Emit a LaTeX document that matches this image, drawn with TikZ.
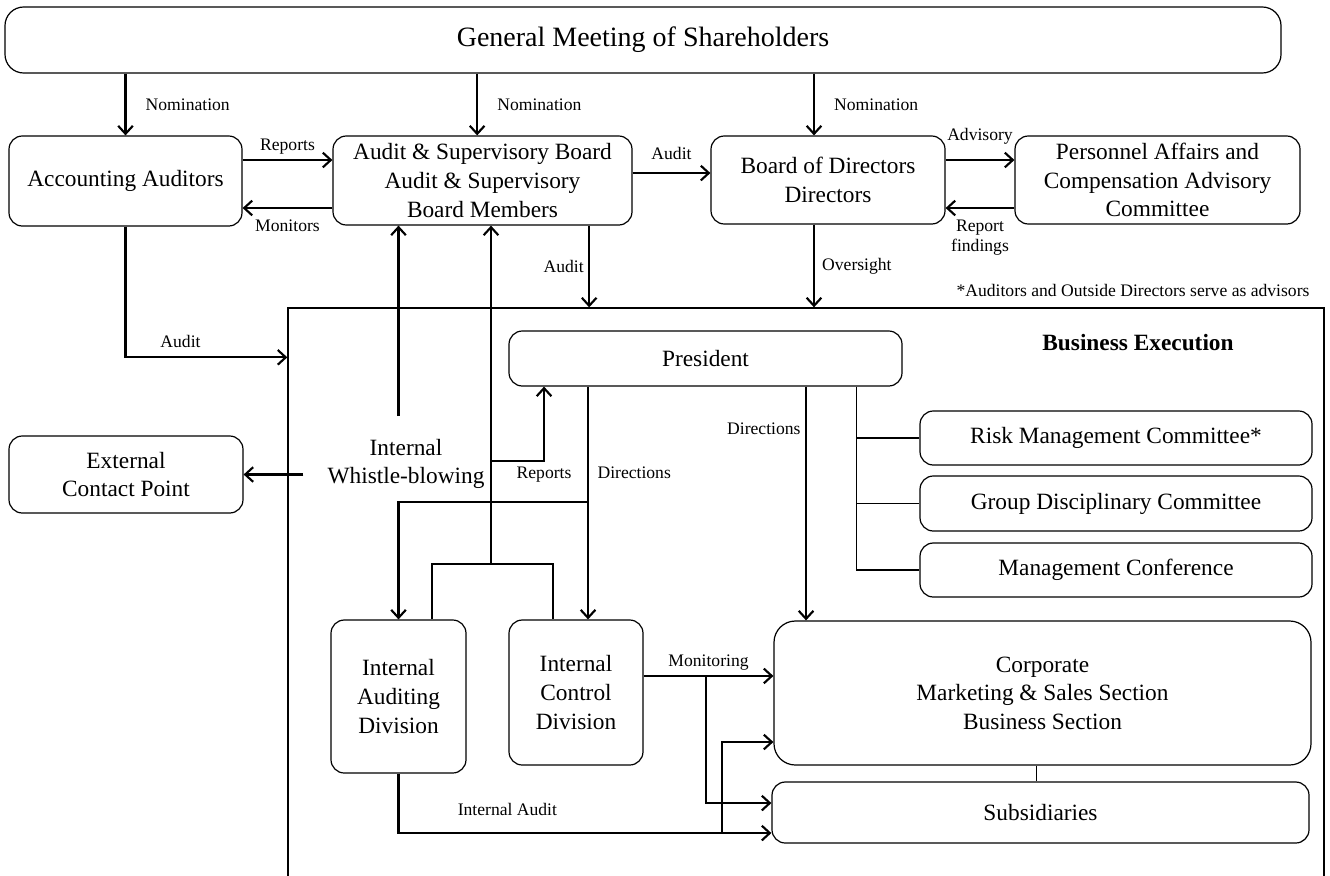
\documentclass[tikz,border=0pt]{standalone}
\usepackage{fontspec}
\setmainfont{Liberation Serif}
\usetikzlibrary{arrows.meta}
\begin{document}
\begin{tikzpicture}[x=0.75pt,y=-0.75pt,
	box/.style = {draw, line width=0.9pt, rounded corners=10pt, align=center, inner sep=0pt, font=\fontsize{17.5}{21.4}\selectfont},
	lbl/.style = {font=\fontsize{13.2}{15}\selectfont, align=center},
	arr/.style = {line width=1.6pt, -{Straight Barb[length=6pt,width=11pt]}},
	thk/.style = {line width=1.6pt},
	thin/.style = {line width=0.8pt}]
	\useasboundingbox (0,0) rectangle (1330,875);
	% Liiketoiminta
	\node[draw, line width=1pt, minimum width=777pt, minimum height=432.75pt] (bizex) at (806,596.5) {};
	\node[font=\fontsize{17.5}{21.4}\selectfont\bfseries] (bizlbl) at (1138,343) {Business Execution};
	\node[lbl] (note) at (1133,290) {*Auditors and Outside Directors serve as advisors};
	% Laatikot
	\node[box, rounded corners=14pt, minimum width=957pt, minimum height=49.5pt, font=\fontsize{21}{25}\selectfont] (gms) at (643,40) {General Meeting of Shareholders};
	\node[box, minimum width=174.75pt, minimum height=67.5pt] (acc) at (125.5,181) {Accounting Auditors};
	\node[box, minimum width=224.25pt, minimum height=66.75pt] (asb) at (482.5,180.5) {Audit \& Supervisory Board\\Audit \& Supervisory\\Board Members};
	\node[box, minimum width=175.5pt, minimum height=66pt] (bod) at (828,180) {Board of Directors\\Directors};
	\node[box, minimum width=213.75pt, minimum height=66pt] (pers) at (1157.5,180) {Personnel Affairs and\\Compensation Advisory\\Committee};
	\node[box, minimum width=175.5pt, minimum height=57.75pt] (ext) at (126,474.5) {External\\Contact Point};
	\node[box, minimum width=294.75pt, minimum height=41.25pt] (pres) at (705.5,358.5) {President};
	\node[box, minimum width=294pt, minimum height=40.5pt] (risk) at (1116,438) {Risk Management Committee*};
	\node[box, minimum width=294pt, minimum height=41.25pt] (grp) at (1116,503.5) {Group Disciplinary Committee};
	\node[box, minimum width=294pt, minimum height=40.5pt] (mgmt) at (1116,570) {Management Conference};
	\node[box, minimum width=101.25pt, minimum height=114.75pt] (iad) at (398.5,696.5) {Internal\\Auditing\\Division};
	\node[box, minimum width=100.5pt, minimum height=108.75pt] (icd) at (576,692.5) {Internal\\Control\\Division};
	\node[box, rounded corners=16pt, minimum width=402.75pt, minimum height=108pt] (corp) at (1042.5,693) {Corporate\\Marketing \& Sales Section\\Business Section};
	\node[box, minimum width=402.75pt, minimum height=45.75pt] (subs) at (1040.5,812.5) {Subsidiaries};
	\node[align=center, inner xsep=18pt, inner ysep=17pt, font=\fontsize{17.5}{21.4}\selectfont] (wb) at (406,464) {Internal\\Whistle-blowing};
	% Apupisteet
	\coordinate (split) at (491,564);
	\coordinate (rep) at (491,461);
	\coordinate (dsplit) at (588,502);
	\coordinate (tap) at ([xshift=112.9pt]pres.south);
	\coordinate (mtap) at (706,676);
	\coordinate (atap) at (722,833);
	% Yhteydet
	\draw[arr] (gms.south -| acc.north) -- node[lbl, right=11pt] {Nomination} (acc.north);
	\draw[arr] ([xshift=-4pt]asb.north |- gms.south) -- node[lbl, right=11pt] {Nomination} ([xshift=-4pt]asb.north);
	\draw[arr] ([xshift=-10.5pt]bod.north |- gms.south) -- node[lbl, right=11pt] {Nomination} ([xshift=-10.5pt]bod.north);
	\draw[arr] ([yshift=15.75pt]acc.east) -- node[lbl, above] {Reports} ([yshift=15.75pt]acc.east -| asb.west);
	\draw[arr] ([yshift=-20.25pt]acc.east -| asb.west) -- node[lbl, below=5pt] {Monitors} ([yshift=-20.25pt]acc.east);
	\draw[arr] ([yshift=5.6pt]asb.east) -- node[lbl, above=6pt] {Audit} ([yshift=5.6pt]asb.east -| bod.west);
	\draw[arr] ([yshift=15pt]bod.east) -- node[lbl, above=8pt] {Advisory} ([yshift=15pt]bod.east -| pers.west);
	\draw[arr] ([yshift=-21pt]bod.east -| pers.west) -- node[lbl, below=5pt] {Report\\findings} ([yshift=-21pt]bod.east);
	\draw[arr] ([xshift=-10.5pt]bod.south) -- node[lbl, right=2pt] {Oversight} ([xshift=-10.5pt]bod.south |- bizex.north);
	\draw[arr] ([xshift=80pt]asb.south) -- node[lbl, left] {Audit} ([xshift=80pt]asb.south |- bizex.north);
	\draw[arr] (acc.south) |- node[lbl, pos=0.67, above=3pt] {Audit} ([yshift=-37.5pt]bizex.north west);
	\draw[arr] (wb.north -| iad.north) -- (asb.south -| iad.north);
	\draw[arr] (wb.west |- ext.east) -- (ext.east);
	\draw[arr] (split) -- (split |- asb.south);
	\draw[thk] ([xshift=25pt]iad.north) |- (split) -| ([xshift=-17.25pt]icd.north);
	\draw[arr] (rep) -| node[lbl, pos=0.5, below] {Reports} ([xshift=-121.1pt]pres.south);
	\draw[arr] ([xshift=-88.1pt]pres.south) -- node[lbl, pos=0.37, right=3pt] {Directions} ([xshift=-88.1pt]pres.south |- icd.north);
	\draw[arr] (dsplit) -| (iad.north);
	\draw[arr] ([xshift=75.4pt]pres.south) -- node[lbl, pos=0.18, left] {Directions} ([xshift=75.4pt]pres.south |- corp.north);
	\draw[thin] (tap) |- (mgmt.west);
	\draw[thin] (tap |- risk.west) -- (risk.west);
	\draw[thin] (tap |- grp.west) -- (grp.west);
	\draw[arr] ([yshift=12.4pt]icd.east) -- node[lbl, above] {Monitoring} ([yshift=12.4pt]icd.east -| corp.west);
	\draw[arr] (mtap) |- ([yshift=7.1pt]subs.west);
	\draw[arr] (iad.south) |- node[lbl, pos=0.646, above=9pt] {Internal Audit} ([yshift=-15.4pt]subs.west);
	\draw[arr] (atap) |- ([yshift=-36.75pt]corp.west);
	\draw[thin] ([xshift=-4.5pt]corp.south) -- ([xshift=-4.5pt]corp.south |- subs.north);
\end{tikzpicture}
\end{document}
